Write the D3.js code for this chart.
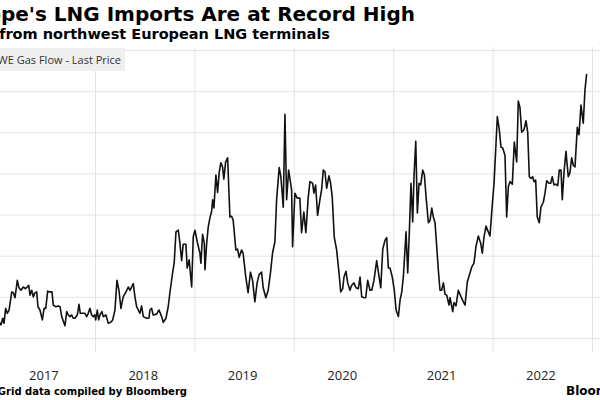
<!DOCTYPE html>
<html>
<head>
<meta charset="utf-8">
<script src="https://cdn.jsdelivr.net/npm/d3@7"></script>
<style>
  html, body { margin: 0; padding: 0; background: #fff; overflow: hidden; }
  svg { display: block; }
</style>
</head>
<body>
<svg id="chart" width="600" height="400"></svg>
<script>
// ---- Data ----
const titleText = "Europe's LNG Imports Are at Record High";
const subtitleText = "from northwest European LNG terminals";
const seriesName = "NWE Gas Flow - Last Price";
const sourceText = "Grid data compiled by Bloomberg";
const yearLabels = ["2017", "2018", "2019", "2020", "2021", "2022"];
const gridYears = [2017, 2018, 2019, 2020, 2021, 2022, 2023];
const yGridValues = [0, 50, 100, 150, 200, 250, 300, 350];

// observation dates as decimal years
const obsDates = [
  2017.014,2017.044,2017.054,2017.071,2017.084,2017.101,2017.117,2017.135,2017.162,2017.178,
  2017.195,2017.218,2017.235,2017.255,2017.278,2017.299,2017.319,2017.333,2017.346,2017.363,
  2017.379,2017.396,2017.413,2017.426,2017.446,2017.470,2017.487,2017.504,2017.524,2017.540,
  2017.567,2017.580,2017.607,2017.631,2017.648,2017.665,2017.698,2017.715,2017.731,2017.748,
  2017.765,2017.781,2017.798,2017.822,2017.839,2017.852,2017.872,2017.899,2017.916,2017.932,
  2017.949,2017.966,2017.983,2017.997,2018.007,2018.023,2018.037,2018.050,2018.070,2018.083,
  2018.110,2018.134,2018.158,2018.178,2018.201,2018.221,2018.241,2018.261,2018.284,2018.312,
  2018.335,2018.352,2018.369,2018.385,2018.402,2018.419,2018.452,2018.469,2018.486,2018.520,
  2018.543,
  2018.553,2018.570,2018.586,2018.620,2018.644,2018.671,2018.687,2018.714,2018.737,2018.754,
  2018.781,2018.797,2018.815,2018.838,2018.855,2018.872,2018.888,2018.915,2018.928,2018.948,
  2018.973,2018.989,2019.006,2019.029,2019.056,2019.066,2019.083,2019.100,2019.107,2019.124,
  2019.140,2019.157,2019.174,2019.184,2019.197,2019.217,2019.234,2019.250,2019.267,2019.284,
  2019.297,2019.315,2019.335,2019.358,2019.375,2019.391,2019.418,2019.435,2019.451,2019.475,
  2019.491,2019.518,2019.541,2019.565,2019.586,2019.609,2019.632,2019.652,2019.677,2019.693,
  2019.720,2019.743,2019.767,2019.787,2019.811,2019.828,2019.854,2019.871,2019.895,2019.912,
  2019.929,2019.949,2019.962,2019.979,2019.989,2020.012,2020.035,
  2020.062,2020.079,2020.102,2020.122,2020.146,2020.163,2020.190,2020.203,2020.220,2020.240,
  2020.263,2020.280,2020.297,2020.314,2020.331,2020.354,2020.371,2020.387,2020.407,2020.431,
  2020.455,2020.472,2020.492,2020.505,2020.525,2020.542,2020.565,2020.582,2020.605,2020.625,
  2020.649,2020.666,2020.683,2020.706,2020.723,2020.743,2020.766,2020.783,2020.806,2020.833,
  2020.850,2020.874,2020.894,2020.917,2020.934,2020.950,2020.967,2020.990,2021.010,2021.028,
  2021.051,2021.068,2021.085,2021.101,2021.128,2021.145,2021.161,2021.178,2021.195,2021.209,
  2021.226,2021.242,2021.259,2021.276,2021.296,2021.313,2021.330,2021.353,2021.370,2021.387,
  2021.403,2021.420,2021.437,2021.453,2021.470,2021.487,2021.504,2021.521,2021.538,2021.561,
  2021.571,2021.581,2021.598,2021.611,2021.631,2021.654,2021.682,2021.705,2021.722,2021.745,
  2021.762,2021.789,2021.812,2021.832,2021.856,2021.880,2021.896,2021.913,2021.933,2021.956,
  2021.973,2021.990,2022.014,2022.034,2022.047,2022.067,2022.084,2022.101,2022.124,2022.141,
  2022.158,2022.175,2022.198,2022.218,2022.242,2022.258,2022.275,2022.292,2022.315,2022.336,
  2022.353,2022.369,2022.386,2022.403,2022.416,2022.433,2022.449,2022.469,2022.486,2022.510,
  2022.527,2022.544,2022.567,2022.584,2022.600,2022.617,2022.637,2022.655,2022.671,2022.688,
  2022.701,2022.718,2022.738,2022.761,2022.778,2022.795,2022.812,2022.829,2022.852,2022.869,
  2022.889,2022.912,2022.929,2022.946
];

// gas flow values (same order as obsDates)
const flowValues = [
  22,18,16,24,18,36,30,34,56,55,
  49,70,61,58,62,60,62,64,52,58,
  50,55,56,38,34,22,36,36,57,56,
  56,40,38,39,38,26,15,32,28,26,
  28,24,24,28,41,30,30,30,26,30,
  36,28,26,28,22,34,22,28,32,26,
  28,18,19,22,34,70,58,36,50,56,
  62,58,62,66,50,38,30,39,26,24,
  24,
  34,36,28,29,34,26,19,24,38,55,
  79,91,129,131,115,94,114,114,85,95,
  62,123,131,117,103,91,126,115,83,115,
  135,146,154,168,158,198,177,201,213,208,
  193,214,219,147,148,143,107,108,98,107,
  103,74,55,80,70,44,67,77,80,61,
  49,58,80,103,117,168,207,196,159,272,
  168,204,194,180,111,176,170,
  170,128,153,128,171,190,188,176,186,149,
  168,180,204,202,182,197,188,171,123,107,
  79,56,60,74,81,67,58,64,67,61,
  60,74,50,49,49,70,58,58,70,94,
  80,61,108,119,122,85,85,74,58,34,
  26,46,56,74,129,79,128,188,141,198,
  239,152,188,186,204,198,171,140,143,158,
  147,140,111,83,58,58,67,53,52,40,
  49,43,32,43,39,58,50,44,40,68,
  75,86,91,111,124,115,103,123,136,129,
  124,152,188,237,269,253,232,231,222,147,
  184,190,187,238,214,288,280,250,253,264,
  250,196,194,196,190,192,147,140,159,165,
  176,191,188,188,196,186,187,185,204,204,
  168,201,227,196,201,219,210,208,256,247,
  283,261,301,321
];

// ---- helpers ----
function decimalYearToDate(t) {
  const yr = Math.floor(t);
  const start = Date.UTC(yr, 0, 1);
  const end = Date.UTC(yr + 1, 0, 1);
  return new Date(start + (t - yr) * (end - start));
}
const data = obsDates.map((t, i) => ({ date: decimalYearToDate(t), value: flowValues[i] }));

// ---- layout ----
const svg = d3.select("#chart");
const plotTop = 50, plotBottom = 338;
const x = d3.scaleUtc()
  .domain([new Date(Date.UTC(2018, 0, 1)), new Date(Date.UTC(2023, 0, 1))])
  .range([95, 592]);
const y = d3.scaleLinear().domain([0, 350]).range([plotBottom, plotTop]);

const gridColor = "#e4e4e4";

// horizontal gridlines
const yGrid = svg.append("g")
  .call(d3.axisRight(y).tickValues(yGridValues).tickSize(600).tickFormat(""));
yGrid.select(".domain").remove();
yGrid.selectAll(".tick line").attr("stroke", gridColor).attr("stroke-width", 1);

// vertical gridlines at year boundaries (extend below the axis as ticks)
const xGrid = svg.append("g")
  .attr("transform", "translate(0,352)")
  .call(d3.axisBottom(x)
    .tickValues(gridYears.map(yr => new Date(Date.UTC(yr, 0, 1))))
    .tickSize(-(352 - 47))
    .tickFormat(""));
xGrid.select(".domain").remove();
xGrid.selectAll(".tick line").attr("stroke", gridColor).attr("stroke-width", 1);

// year labels centred in each year
const xLabels = svg.append("g")
  .attr("transform", "translate(0,368)")
  .call(d3.axisBottom(x)
    .tickValues(yearLabels.map(s => new Date(Date.UTC(+s, 6, 1))))
    .tickSize(0)
    .tickFormat((d, i) => yearLabels[i]));
xLabels.select(".domain").remove();
xLabels.selectAll(".tick line").remove();
xLabels.selectAll("text")
  .attr("dy", "0.72em")
  .attr("dx", -1.5)
  .attr("font-family", "'Open Sans', sans-serif")
  .attr("font-size", 13)
  .attr("fill", "#222");

// series line
const line = d3.line().x(d => x(d.date)).y(d => y(d.value)).curve(d3.curveLinear);
svg.append("path")
  .datum(data)
  .attr("d", line)
  .attr("fill", "none")
  .attr("stroke", "#111")
  .attr("stroke-width", 1.6)
  .attr("stroke-linejoin", "round");

// legend box
svg.append("rect")
  .attr("x", -60).attr("y", 48).attr("width", 185).attr("height", 23)
  .attr("fill", "#efefef");
svg.append("text")
  .attr("x", 121).attr("y", 64)
  .attr("text-anchor", "end")
  .attr("font-family", "'Open Sans', sans-serif")
  .attr("font-size", 11)
  .attr("fill", "#333")
  .text(seriesName);

// title & subtitle
svg.append("text")
  .attr("x", 415).attr("y", 21)
  .attr("text-anchor", "end")
  .attr("font-family", "'DejaVu Sans', sans-serif")
  .attr("font-weight", "bold")
  .attr("font-size", 20)
  .attr("fill", "#000")
  .text(titleText);
svg.append("text")
  .attr("x", 330).attr("y", 39)
  .attr("text-anchor", "end")
  .attr("font-family", "'DejaVu Sans', sans-serif")
  .attr("font-weight", "bold")
  .attr("font-size", 14.5)
  .attr("fill", "#000")
  .text(subtitleText);

// source & logo
svg.append("text")
  .attr("x", 187).attr("y", 395)
  .attr("text-anchor", "end")
  .attr("font-family", "'DejaVu Sans', sans-serif")
  .attr("font-weight", "bold")
  .attr("font-size", 10)
  .attr("fill", "#000")
  .text(sourceText);
svg.append("text")
  .attr("x", 566).attr("y", 395)
  .attr("font-family", "'DejaVu Sans', sans-serif")
  .attr("font-weight", "bold")
  .attr("font-size", 12)
  .attr("fill", "#000")
  .text("Bloomberg");
</script>
</body>
</html>
